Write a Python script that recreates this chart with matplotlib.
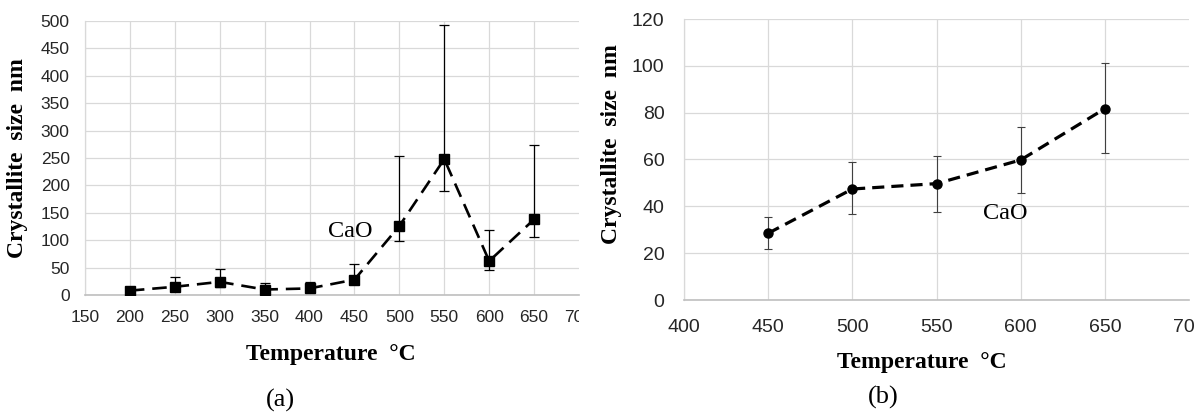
import matplotlib
matplotlib.use("Agg")
import matplotlib.pyplot as plt
from matplotlib.transforms import Bbox, TransformedBbox

# (a) CaO crystallite size vs temperature
temp_a = [200, 250, 300, 350, 400, 450, 500, 550, 600, 650]
size_a = [8, 15, 24, 10, 12, 28, 126, 248, 62, 138]
upper_a = [10, 32, 47, 22, 24, 56, 253, 493, 119, 273]
lower_a = [4, 8, 14, 4, 6, 20, 98, 190, 45, 105]

# (b) CaO crystallite size vs temperature
temp_b = [450, 500, 550, 600, 650]
size_b = [28.5, 47.4, 49.7, 59.8, 81.7]
upper_b = [35.6, 59.1, 61.6, 74.0, 101.2]
lower_b = [21.8, 36.6, 37.7, 45.8, 62.6]

xticks_a = [150, 200, 250, 300, 350, 400, 450, 500, 550, 600, 650, 700]
yticks_a = [0, 50, 100, 150, 200, 250, 300, 350, 400, 450, 500]
xticks_b = [400, 450, 500, 550, 600, 650, 700]
yticks_b = [0, 20, 40, 60, 80, 100, 120]

W, H = 1195, 415
fig = plt.figure(figsize=(W / 100, H / 100), dpi=100)

serif = "Liberation Serif"
sans = "Liberation Sans"
grid_c = "#d9d9d9"
tick_c = "#262626"


def px_axes(x0, y0, x1, y1):
    # pixel box (left, top, right, bottom) -> figure fraction
    return fig.add_axes([x0 / W, 1 - y1 / H, (x1 - x0) / W, (y1 - y0) / H])


def style(ax, xticks, yticks, fs, pad):
    ax.set_xticks(xticks)
    ax.set_yticks(yticks)
    ax.set_xlim(xticks[0], xticks[-1])
    ax.set_ylim(yticks[0], yticks[-1])
    ax.grid(True, color=grid_c, linewidth=0.9)
    ax.set_axisbelow(True)
    for s in ["top", "right"]:
        ax.spines[s].set_visible(False)
    ax.spines["left"].set_color(grid_c)
    ax.spines["left"].set_linewidth(0.9)
    ax.spines["bottom"].set_color("#bfbfbf")
    ax.spines["bottom"].set_linewidth(1.2)
    ax.tick_params(length=0, labelsize=fs, colors=tick_c, pad=pad)
    for lab in ax.get_xticklabels() + ax.get_yticklabels():
        lab.set_fontfamily(sans)
    ax.xaxis.get_major_ticks()[-1].gridline.set_visible(False)


# ---- panel (a)
ax1 = px_axes(85, 21, 579, 295)
style(ax1, xticks_a, yticks_a, 12.5, 11)
err_a = [[s - l for s, l in zip(size_a, lower_a)], [u - s for s, u in zip(size_a, upper_a)]]
ax1.errorbar(temp_a, size_a, yerr=err_a, fmt="none", ecolor="black",
             elinewidth=0.9, capsize=3.5, capthick=0.9, zorder=2)
line, = ax1.plot(temp_a, size_a, color="black", linewidth=1.9, marker="s",
                 markersize=6.5, zorder=3)
line.set_dashes((5.5, 3.0))
ax1.text(445, 115, "CaO", fontfamily=serif, fontsize=17.5, ha="center", va="center")
# last x label is cut at the plot edge in the original
clip = TransformedBbox(Bbox([[0, 0], [579 / W, 1]]), fig.transFigure)
last = ax1.get_xticklabels()[-1]
last.set_clip_on(True)
last.set_clip_box(clip)

# ---- panel (b)
ax2 = px_axes(684, 19, 1189, 300)
style(ax2, xticks_b, yticks_b, 14, 14)
err_b = [[s - l for s, l in zip(size_b, lower_b)], [u - s for s, u in zip(size_b, upper_b)]]
ax2.errorbar(temp_b, size_b, yerr=err_b, fmt="none", ecolor="#404040",
             elinewidth=0.8, capsize=3, capthick=0.8, zorder=2)
line2, = ax2.plot(temp_b, size_b, color="black", linewidth=2.3, marker="o",
                  markersize=6.5, zorder=3)
line2.set_dashes((3.8, 2.2))
ax2.text(591, 37, "CaO", fontfamily=serif, fontsize=17.5, ha="center", va="center")

# ---- axis titles and captions
lab = dict(fontfamily=serif, fontweight="bold", fontsize=17, ha="center", va="center")
fig.text(18 / W, 1 - 158 / H, "Crystallite  size  nm", rotation=90, **lab)
fig.text(331 / W, 1 - 354 / H, "Temperature  \u00b0C", **lab)
fig.text(612 / W, 1 - 144 / H, "Crystallite  size  nm", rotation=90, **lab)
fig.text(922 / W, 1 - 362 / H, "Temperature  \u00b0C", **lab)

fig.text(280 / W, 1 - 400 / H, "(a)", fontfamily=serif, fontsize=19, ha="center", va="center")
fig.text(883 / W, 1 - 397 / H, "(b)", fontfamily=serif, fontsize=19, ha="center", va="center")

fig.savefig("out.png", dpi=100)
